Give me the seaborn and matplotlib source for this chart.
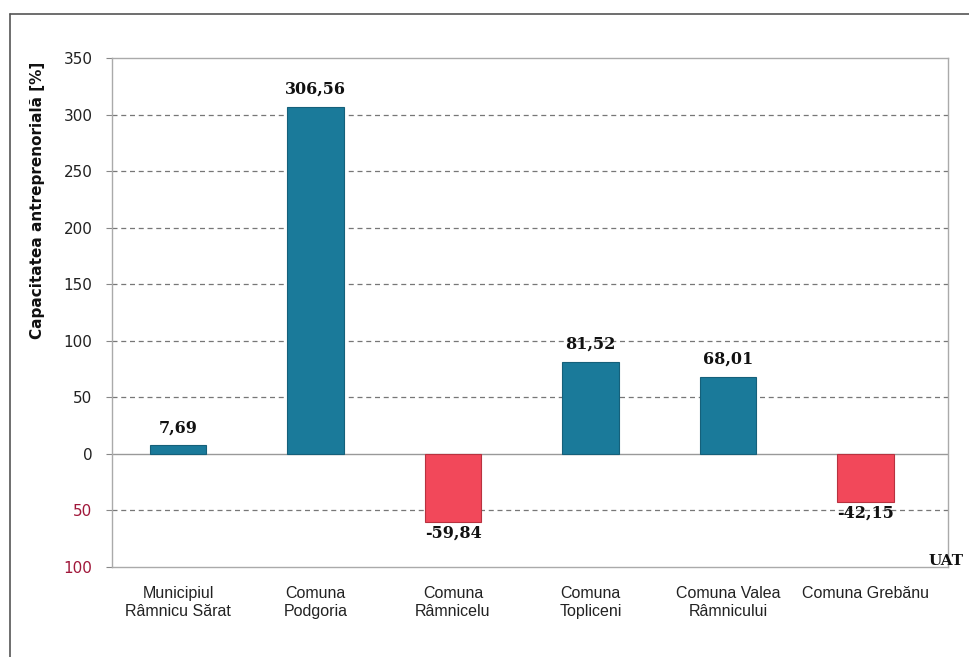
import matplotlib
matplotlib.use("Agg")
import matplotlib.pyplot as plt
import seaborn as sns
import pandas as pd
from matplotlib.lines import Line2D

categories = ["Municipiul\nRâmnicu Sărat", "Comuna\nPodgoria", "Comuna\nRâmnicelu",
              "Comuna\nTopliceni", "Comuna Valea\nRâmnicului", "Comuna Grebănu"]
values = [7.69, 306.56, -59.84, 81.52, 68.01, -42.15]
value_labels = ["7,69", "306,56", "-59,84", "81,52", "68,01", "-42,15"]
yticks = [-100, -50, 0, 50, 100, 150, 200, 250, 300, 350]
ytick_labels = ["100", "50", "0", "50", "100", "150", "200", "250", "300", "350"]

sns.set_theme(style="white")
plt.rcParams['font.family'] = ['DejaVu Sans']

df = pd.DataFrame({"cat": categories, "val": values,
                   "sign": ["pos" if v >= 0 else "neg" for v in values]})

fig = plt.figure(figsize=(9.7, 6.57), dpi=100)
ax = fig.add_axes([112/970, 1-567/657, (948-112)/970, (567-58)/657])

palette = {"pos": "#1a7a9a", "neg": "#f2485a"}
sns.barplot(data=df, x="cat", y="val", hue="sign", palette=palette, dodge=False,
            width=0.41, legend=False, ax=ax, zorder=3, saturation=1)
for p in ax.patches:
    h = p.get_height()
    if h == 0:
        continue
    p.set_edgecolor("#15607a" if h > 0 else "#b8323f")
    p.set_linewidth(0.8)

ax.set_xlim(-0.48, 5.6)
ax.set_ylim(-100, 350)
ax.set_yticks(yticks)
ax.set_yticklabels(ytick_labels, fontsize=11, family="DejaVu Sans")
for t, v in zip(ax.get_yticklabels(), yticks):
    t.set_color("#a0173a" if v < 0 else "#222222")
ax.tick_params(axis="y", length=4, width=0.8, color="#888888", direction="out", pad=10, left=True)
ax.set_xticks(range(len(categories)))
ax.set_xticklabels(categories, fontsize=11.5, family=["Liberation Sans", "DejaVu Sans"],
                   color="#222222", linespacing=1.25)
ax.tick_params(axis="x", length=0, pad=14)
ax.set_xlabel("")
ax.set_ylabel("")

for y in [50, 100, 150, 200, 250, 300, -50]:
    ax.axhline(y, color="#777777", linestyle=(0, (4, 3)), linewidth=0.9, zorder=1)
ax.axhline(0, color="#999999", linewidth=1.0, zorder=2)

for spine in ax.spines.values():
    spine.set_visible(True)
    spine.set_color("#aaaaaa")
    spine.set_linewidth(1.0)

for i, (v, lab) in enumerate(zip(values, value_labels)):
    if v >= 0:
        ax.text(i, v + 8, lab, ha="center", va="bottom", fontsize=11.5, fontweight="bold",
                family="DejaVu Serif", color="#111111")
    else:
        ax.text(i, v - 3, lab, ha="center", va="top", fontsize=11.5, fontweight="bold",
                family="DejaVu Serif", color="#111111")

fig.text(38/970, 1-200/657, "Capacitatea antreprenorială [%]", rotation=90, ha="center",
         va="center", fontsize=11, fontweight="bold", color="#111111")
fig.text(964/970, 1-561/657, "UAT", ha="right", va="center", fontsize=11, fontweight="bold",
         family="DejaVu Serif", color="#111111")

fig.add_artist(Line2D([10/970, 10/970], [0, 1-14/657], transform=fig.transFigure,
                      color="#555555", linewidth=1.2))
fig.add_artist(Line2D([10/970, 1], [1-14/657, 1-14/657], transform=fig.transFigure,
                      color="#555555", linewidth=1.2))

fig.savefig("out.png", dpi=100)
